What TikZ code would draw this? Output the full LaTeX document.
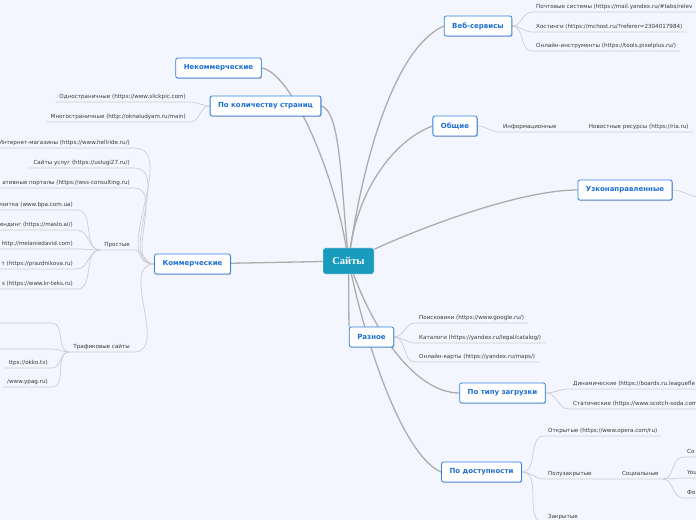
\documentclass[tikz,border=0pt]{standalone}
\usepackage{fontspec}
\setmainfont{DejaVu Sans}
\newfontfamily\hubfont{Liberation Serif}
\usetikzlibrary{positioning, shadows, backgrounds}

\definecolor{paper}{HTML}{F3F6FE}
\definecolor{trunkgray}{HTML}{ADADAD}
\definecolor{twiggray}{HTML}{CDCED4}
\definecolor{edgeblue}{HTML}{2F80E3}
\definecolor{labelblue}{HTML}{1C6ED6}
\definecolor{hubteal}{HTML}{189BBD}
\definecolor{ink}{HTML}{3A3A3A}

\newcommand{\leaffont}{\fontsize{5.6bp}{6.5bp}\selectfont}
\newcommand{\topicfont}{\fontsize{7bp}{8.4bp}\selectfont\bfseries}

\begin{document}
\begin{tikzpicture}[x=1bp, y=1bp,
    hub/.style={rectangle, draw=white, fill=hubteal, text=white, rounded corners=2bp, font=\hubfont\bfseries\fontsize{10.5bp}{12bp}\selectfont, minimum width=51bp, minimum height=26bp},
    topic/.style={rectangle, draw=edgeblue, line width=0.8bp, fill=white, text=labelblue, rounded corners=2bp, font=\topicfont, minimum height=20bp, inner xsep=8bp, drop shadow={shadow xshift=0.7bp, shadow yshift=-0.9bp, fill=black, opacity=0.22}},
    leaf/.style={font=\leaffont, text=ink, inner xsep=4bp, inner ysep=2.5bp, text height=4.2bp, text depth=1.2bp},
    trunk/.style={draw=trunkgray, line width=1.3bp},
    twig/.style={draw=twiggray, line width=0.7bp}]

    \useasboundingbox (0,0) rectangle (696,-520);

    \node [hub] (hub) at (348.5,-261) {Сайты};
    \node [topic] (web) at (478,-26) {Веб-сервисы};
    \node [topic] (general) at (455,-126) {Общие};
    \node [topic] (niche) at (625,-190) {Узконаправленные};
    \node [topic] (misc) at (371.5,-337) {Разное};
    \node [topic] (loading) at (502.5,-393) {По типу загрузки};
    \node [topic] (access) at (481.5,-472) {По доступности};
    \node [topic] (commerce) at (192.5,-264) {Коммерческие};
    \node [topic] (pages) at (265.5,-106) {По количеству страниц};
    \node [topic] (nonprofit) at (218.5,-68) {Некоммерческие};

    \node [leaf, anchor=south west] (mail) at (532,-12) {Почтовые системы (https://mail.yandex.ru/\#tabs/relev};
    \node [leaf, anchor=south west] (hosting) at (532,-32) {Хостинги (https://mchost.ru/?referer=2304017984)};
    \node [leaf, anchor=south west] (tools) at (532,-51) {Онлайн-инструменты (https://tools.pixelplus.ru/)};

    \node [leaf, anchor=south west] (info) at (499,-132) {Информационные};
    \node [leaf, right=24bp of info] (news) {Новостные ресурсы (https://ria.ru)};
    \coordinate (nicheout) at (700,-197);

    \node [leaf, anchor=south west] (search) at (415,-323) {Поисковики (https://www.google.ru/)};
    \node [leaf, anchor=south west] (catalog) at (415,-343) {Каталоги (https://yandex.ru/legal/catalog/)};
    \node [leaf, anchor=south west] (maps) at (415,-362) {Онлайн-карты (https://yandex.ru/maps/)};

    \node [leaf, anchor=south west] (dynamic) at (569,-389) {Динамические (https://boards.ru.leaguefle};
    \node [leaf, anchor=south west] (static) at (569,-409) {Статические (https://www.scotch-soda.com};

    \node [leaf, anchor=south west] (open) at (544,-436) {Открытые (https://www.opera.com/ru)};
    \node [leaf, anchor=south west] (semi) at (544,-479) {Полузакрытые};
    \node [leaf, right=22bp of semi] (social) {Социальные};
    \node [leaf, anchor=south west] (soca) at (683,-457) {Со};
    \node [leaf, anchor=south west] (socb) at (683,-478) {You};
    \node [leaf, anchor=south west] (socc) at (683,-498) {Фо};
    \node [leaf, anchor=south west] (closed) at (544,-522) {Закрытые};

    \node [leaf, anchor=south east] (single) at (190,-102) {Одностраничные (https://www.slickpic.com)};
    \node [leaf, anchor=south east] (multi) at (190,-122) {Многостраничные (http://oknaludyam.ru/main)};

    \node [leaf, anchor=south east] (shops) at (134,-148) {Интернет-магазины (https://www.hellride.ru/)};
    \node [leaf, anchor=south east] (services) at (134,-168) {Сайты услуг (https://uslugi27.ru/)};
    \node [leaf, anchor=south east] (portals) at (134,-188) {ативные порталы (https://wss-consulting.ru)};
    \node [leaf, anchor=south east] (simple) at (134,-250) {Простые};
    \node [leaf, anchor=south east] (traffic) at (134,-352) {Трафиковые сайты};

    \node [leaf, anchor=south east] (card) at (77,-210) {изитка (www.bpa.com.ua)};
    \node [leaf, anchor=south east] (landing) at (77,-230) {ендинг (https://maslo.ai/)};
    \node [leaf, anchor=south east] (folio) at (77,-249) {http://melaniedavid.com)};
    \node [leaf, anchor=south east] (event) at (77,-269) {т (https://prazdnikova.ru)};
    \node [leaf, anchor=south east] (textile) at (77,-289) {s (https://www.kr-teks.ru)};

    \node [leaf, anchor=south east, minimum width=60bp] (trafa) at (52,-323) {};
    \node [leaf, anchor=south east, minimum width=60bp] (trafb) at (52,-349) {};
    \node [leaf, anchor=south east] (okko) at (52,-368) {ttps://okko.tv)};
    \node [leaf, anchor=south east] (ypag) at (52,-387) {/www.ypag.ru)};

    \begin{scope}[on background layer]
    \fill [paper] (0,0) rectangle (696,-520);

    \path [trunk] (hub) .. controls +(12,80) and +(-55,-25) .. (web.west);
    \path [trunk] (hub) .. controls +(10,70) and +(-40,-15) .. (general.west);
    \path [trunk] (hub) .. controls +(72,33) and +(-58,0) .. (niche.west);
    \path [trunk] (hub) -- (misc.north west);
    \path [trunk] (hub) .. controls +(30,-80) and +(-40,0) .. (loading.west);
    \path [trunk] (hub) .. controls +(22,-100) and +(-35,15) .. (access.west);
    \path [trunk] (hub) -- (commerce);
    \path [trunk] (hub) .. controls +(-8,90) and +(18,-5) .. (pages.east);
    \path [trunk] (hub) .. controls +(-15,90) and +(30,-5) .. (nonprofit.east);

    \path [twig] (web.east) to[out=0, in=180] (mail.south west) -- (mail.south east);
    \path [twig] (web.east) to[out=0, in=180] (hosting.south west) -- (hosting.south east);
    \path [twig] (web.east) to[out=0, in=180] (tools.south west) -- (tools.south east);
    \path [twig] (general.east) to[out=0, in=180] (info.south west) -- (news.south east);
    \path [twig] (niche.east) to[out=0, in=180] (nicheout);

    \path [twig] (misc.east) to[out=0, in=180] (search.south west) -- (search.south east);
    \path [twig] (misc.east) to[out=0, in=180] (catalog.south west) -- (catalog.south east);
    \path [twig] (misc.east) to[out=0, in=180] (maps.south west) -- (maps.south east);
    \path [twig] (loading.east) to[out=0, in=180] (dynamic.south west) -- (dynamic.south east);
    \path [twig] (loading.east) to[out=0, in=180] (static.south west) -- (static.south east);

    \path [twig] (access.east) to[out=0, in=180] (open.south west) -- (open.south east);
    \path [twig] (access.east) to[out=0, in=180] (semi.south west) -- (social.south east);
    \path [twig] (access.east) to[out=0, in=180] (closed.south west) -- (closed.south east);
    \path [twig] (social.south east) to[out=0, in=180] (soca.south west) -- (soca.south east);
    \path [twig] (social.south east) to[out=0, in=180] (socb.south west) -- (socb.south east);
    \path [twig] (social.south east) to[out=0, in=180] (socc.south west) -- (socc.south east);

    \path [twig] (pages.west) to[out=180, in=0] (single.south east) -- (single.south west);
    \path [twig] (pages.west) to[out=180, in=0] (multi.south east) -- (multi.south west);

    \path [twig] (commerce.west) to[out=180, in=0] (shops.south east) -- (shops.south west);
    \path [twig] (commerce.west) to[out=180, in=0] (services.south east) -- (services.south west);
    \path [twig] (commerce.west) to[out=180, in=0] (portals.south east) -- (portals.south west);
    \path [twig] (commerce.west) to[out=180, in=0] (simple.south east) -- (simple.south west);
    \path [twig] (commerce.west) to[out=180, in=0] (traffic.south east) -- (traffic.south west);

    \path [twig] (simple.south west) to[out=180, in=0] (card.south east) -- (card.south west);
    \path [twig] (simple.south west) to[out=180, in=0] (landing.south east) -- (landing.south west);
    \path [twig] (simple.south west) to[out=180, in=0] (folio.south east) -- (folio.south west);
    \path [twig] (simple.south west) to[out=180, in=0] (event.south east) -- (event.south west);
    \path [twig] (simple.south west) to[out=180, in=0] (textile.south east) -- (textile.south west);

    \path [twig] (traffic.south west) to[out=180, in=0] (trafa.south east) -- (trafa.south west);
    \path [twig] (traffic.south west) to[out=180, in=0] (trafb.south east) -- (trafb.south west);
    \path [twig] (traffic.south west) to[out=180, in=0] (okko.south east) -- (okko.south west);
    \path [twig] (traffic.south west) to[out=180, in=0] (ypag.south east) -- (ypag.south west);
    \end{scope}
\end{tikzpicture}
\end{document}
